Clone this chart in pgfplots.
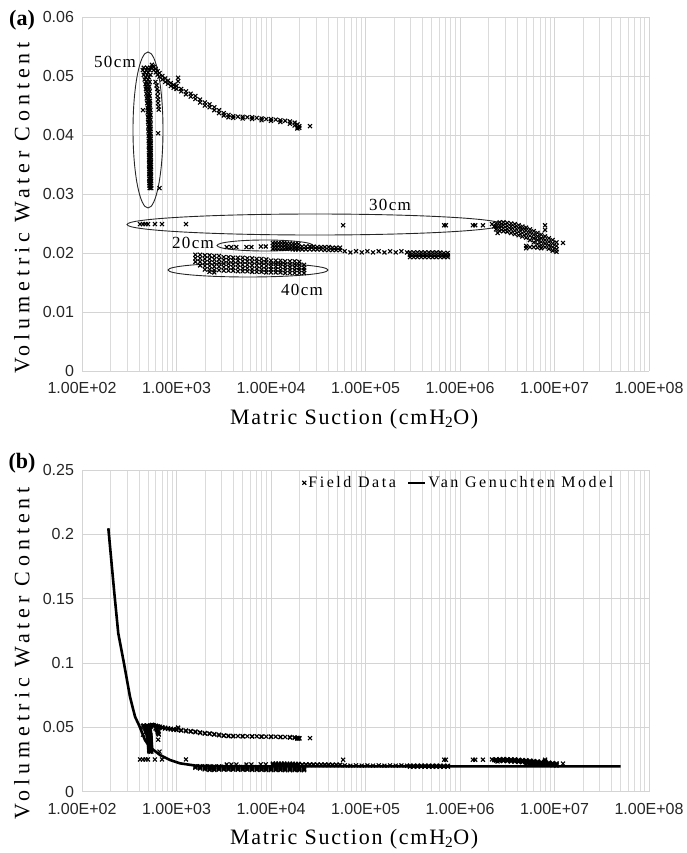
\documentclass[border=0pt]{standalone}
\usepackage{pgfplots}
\pgfplotsset{compat=1.18}
\usepackage{pgfplotstable}
\usepackage{fontspec}
\setmainfont{Liberation Serif}
\newfontfamily\ticksf{Liberation Sans}
\newfontfamily\lsserif[LetterSpace=8]{Liberation Serif}
\newfontfamily\lswide[LetterSpace=22]{Liberation Serif}
\newfontfamily\lsleg[LetterSpace=16]{Liberation Serif}

% 50 cm depth
\pgfplotstableread[row sep=\\]{
x y\\
450 0.0514\\ 490 0.0514\\ 530 0.0514\\
440 0.0510\\ 480 0.0510\\ 520 0.0510\\
460 0.0506\\ 500 0.0506\\
450 0.0502\\ 490 0.0502\\ 530 0.0502\\
470 0.0498\\ 510 0.0498\\
460 0.0494\\ 500 0.0494\\
480 0.0490\\ 520 0.0490\\
470 0.0486\\ 505 0.0486\\
480 0.0482\\ 515 0.0482\\
475 0.0478\\ 510 0.0478\\
485 0.0474\\ 520 0.0474\\
480 0.0470\\ 510 0.0470\\
490 0.0466\\ 520 0.0466\\
485 0.0462\\ 515 0.0462\\
495 0.0458\\ 525 0.0458\\
490 0.0454\\ 520 0.0454\\
500 0.0450\\ 525 0.0450\\
495 0.0446\\ 520 0.0446\\
500 0.0442\\ 530 0.0442\\
495 0.0438\\ 525 0.0438\\
505 0.0434\\ 530 0.0434\\
500 0.0430\\ 525 0.0430\\
505 0.0426\\ 530 0.0426\\
500 0.0422\\ 525 0.0422\\
510 0.0418\\ 530 0.0418\\
505 0.0414\\ 528 0.0414\\
510 0.0410\\ 532 0.0410\\
505 0.0406\\ 528 0.0406\\
512 0.0402\\ 532 0.0402\\
508 0.0398\\ 530 0.0398\\
512 0.0394\\ 534 0.0394\\
508 0.0390\\ 530 0.0390\\
512 0.0386\\ 534 0.0386\\
510 0.0382\\ 530 0.0382\\
514 0.0378\\ 535 0.0378\\
510 0.0374\\ 532 0.0374\\
515 0.0370\\ 535 0.0370\\
512 0.0366\\ 532 0.0366\\
515 0.0362\\ 536 0.0362\\
512 0.0358\\ 533 0.0358\\
516 0.0354\\ 536 0.0354\\
513 0.0350\\ 534 0.0350\\
516 0.0346\\ 537 0.0346\\
514 0.0342\\ 534 0.0342\\
517 0.0338\\ 537 0.0338\\
515 0.0334\\ 535 0.0334\\
518 0.0330\\ 538 0.0330\\
515 0.0326\\ 535 0.0326\\
518 0.0322\\ 538 0.0322\\
516 0.0318\\ 536 0.0318\\
518 0.0314\\ 538 0.0314\\
520 0.0310\\ 540 0.0310\\
600 0.0490\\ 615 0.0484\\ 625 0.0478\\ 636 0.0473\\ 630 0.0466\\ 640 0.0460\\
636 0.0454\\ 645 0.0448\\ 650 0.0443\\ 640 0.0403\\ 660 0.0310\\ 442 0.0442\\
550 0.0519\\ 560 0.0516\\
575 0.0515\\ 575 0.0510\\
603 0.0512\\ 603 0.0506\\
631 0.0508\\ 631 0.0502\\
661 0.0505\\ 661 0.0499\\
708 0.0500\\ 708 0.0494\\
759 0.0496\\ 759 0.0490\\
813 0.0492\\ 813 0.0487\\
871 0.0488\\ 871 0.0483\\
933 0.0485\\ 933 0.0480\\
1000 0.0483\\ 1000 0.0478\\
1040 0.0497\\ 1040 0.0491\\
1122 0.0478\\ 1122 0.0474\\
1259 0.0474\\ 1259 0.0469\\
1413 0.0470\\ 1413 0.0465\\
1585 0.0466\\ 1585 0.0461\\
1778 0.0460\\ 1778 0.0455\\
1995 0.0455\\ 1995 0.0450\\
2239 0.0452\\ 2239 0.0447\\
2512 0.0447\\ 2512 0.0442\\
2818 0.0442\\ 2818 0.0437\\
3162 0.0437\\ 3162 0.0433\\
3548 0.0434\\ 3548 0.0430\\
3981 0.0432\\ 3981 0.0429\\
4467 0.0431\\
5012 0.0431\\ 5012 0.0428\\
5623 0.0430\\
6310 0.0430\\ 6310 0.0427\\
7079 0.0429\\
7943 0.0428\\ 7943 0.0425\\
8913 0.0427\\
10000 0.0427\\ 10000 0.0424\\
11220 0.0426\\
12589 0.0425\\ 12589 0.0422\\
14125 0.0424\\
15849 0.0423\\ 15849 0.0419\\
17783 0.0421\\ 17783 0.0416\\
19055 0.0418\\ 19055 0.0413\\ 19055 0.0411\\
19953 0.0415\\ 19953 0.0412\\
25900 0.0415\\
}\fiftycm

% 30 cm depth
\pgfplotstableread[row sep=\\]{
x y\\
411 0.0249\\ 441 0.0249\\ 470 0.0249\\ 499 0.0249\\ 591 0.0249\\ 703 0.0249\\ 1260 0.0249\\
58000 0.0247\\ 680000 0.0247\\ 710000 0.0247\\ 1370000 0.0247\\ 1450000 0.0247\\
1750000 0.0247\\ 2180000 0.0249\\ 2300000 0.0245\\ 2500000 0.0234\\
2400000 0.0250\\ 2400000 0.0245\\ 2400000 0.0240\\
2630000 0.0252\\ 2630000 0.0247\\ 2630000 0.0242\\ 2630000 0.0237\\
2880000 0.0252\\ 2880000 0.0247\\ 2880000 0.0242\\ 2880000 0.0237\\
3160000 0.0251\\ 3160000 0.0246\\ 3160000 0.0241\\ 3160000 0.0236\\
3470000 0.0250\\ 3470000 0.0245\\ 3470000 0.0240\\ 3470000 0.0234\\
3800000 0.0249\\ 3800000 0.0244\\ 3800000 0.0238\\ 3800000 0.0232\\
4170000 0.0247\\ 4170000 0.0242\\ 4170000 0.0236\\ 4170000 0.0230\\
4570000 0.0245\\ 4570000 0.0240\\ 4570000 0.0234\\ 4570000 0.0228\\
5010000 0.0243\\ 5010000 0.0238\\ 5010000 0.0232\\ 5010000 0.0226\\ 5010000 0.0212\\ 5010000 0.0208\\
5500000 0.0240\\ 5500000 0.0235\\ 5500000 0.0229\\ 5500000 0.0222\\ 5500000 0.0210\\
6030000 0.0237\\ 6030000 0.0231\\ 6030000 0.0225\\ 6030000 0.0218\\ 6030000 0.0210\\
6610000 0.0234\\ 6610000 0.0228\\ 6610000 0.0222\\ 6610000 0.0215\\ 6610000 0.0209\\
7240000 0.0231\\ 7240000 0.0225\\ 7240000 0.0219\\ 7240000 0.0213\\ 7240000 0.0208\\
7940000 0.0228\\ 7940000 0.0222\\ 7940000 0.0216\\ 7940000 0.0210\\ 7940000 0.0247\\ 7940000 0.0239\\
8710000 0.0225\\ 8710000 0.0219\\ 8710000 0.0213\\ 8710000 0.0207\\
9550000 0.0222\\ 9550000 0.0216\\ 9550000 0.0210\\ 9550000 0.0204\\
10500000 0.0218\\ 10500000 0.0212\\ 10500000 0.0206\\ 10500000 0.0202\\
12300000 0.0217\\
}\thirtycm

% 20 cm depth
\pgfplotstableread[row sep=\\]{
x y\\
3400 0.0210\\ 3800 0.0210\\ 4300 0.0210\\ 5500 0.0210\\ 6200 0.0210\\ 7800 0.0211\\ 8800 0.0211\\
10471 0.0217\\ 10471 0.0212\\ 10471 0.0207\\
11220 0.0217\\ 11220 0.0212\\ 11220 0.0207\\
12023 0.0217\\ 12023 0.0212\\ 12023 0.0207\\
12882 0.0217\\ 12882 0.0212\\ 12882 0.0207\\
13804 0.0217\\ 13804 0.0212\\ 13804 0.0207\\
14791 0.0216\\ 14791 0.0211\\ 14791 0.0207\\
15849 0.0216\\ 15849 0.0211\\ 15849 0.0207\\
16982 0.0216\\ 16982 0.0211\\ 16982 0.0206\\
18197 0.0215\\ 18197 0.0210\\ 18197 0.0206\\
19498 0.0215\\ 19498 0.0210\\ 19498 0.0206\\
21380 0.0211\\ 21380 0.0206\\
23442 0.0211\\ 23442 0.0206\\
25704 0.0211\\ 25704 0.0206\\
28184 0.0211\\ 28184 0.0206\\
30903 0.0210\\ 30903 0.0206\\
33884 0.0210\\ 33884 0.0206\\
37154 0.0210\\ 37154 0.0205\\
40738 0.0210\\ 40738 0.0205\\
44668 0.0209\\ 44668 0.0205\\
48978 0.0209\\ 48978 0.0205\\
53703 0.0209\\ 53703 0.0205\\
60256 0.0203\\ 69183 0.0201\\ 79433 0.0203\\ 91201 0.0201\\ 104713 0.0203\\ 120226 0.0201\\
138038 0.0203\\ 158489 0.0201\\ 181970 0.0203\\ 208930 0.0201\\ 239883 0.0203\\ 275423 0.0201\\
295121 0.0201\\ 295121 0.0197\\ 295121 0.0193\\
323594 0.0201\\ 323594 0.0197\\ 323594 0.0193\\
354813 0.0201\\ 354813 0.0197\\ 354813 0.0193\\
389045 0.0201\\ 389045 0.0197\\ 389045 0.0193\\
426580 0.0201\\ 426580 0.0197\\ 426580 0.0193\\
467735 0.0201\\ 467735 0.0197\\ 467735 0.0193\\
512861 0.0201\\ 512861 0.0197\\ 512861 0.0193\\
562341 0.0201\\ 562341 0.0197\\ 562341 0.0193\\
616595 0.0201\\ 616595 0.0197\\ 616595 0.0193\\
676083 0.0200\\ 676083 0.0196\\ 676083 0.0193\\
741310 0.0200\\ 741310 0.0196\\ 741310 0.0193\\
}\twentycm

% 40 cm depth
\pgfplotstableread[row sep=\\]{
x y\\
1585 0.0197\\ 1585 0.0191\\ 1585 0.0185\\
1778 0.0197\\ 1778 0.0191\\ 1778 0.0185\\ 1778 0.0179\\
1995 0.0196\\ 1995 0.0190\\ 1995 0.0184\\ 1995 0.0178\\ 1995 0.0172\\
2239 0.0196\\ 2239 0.0190\\ 2239 0.0184\\ 2239 0.0178\\ 2239 0.0172\\ 2239 0.0168\\
2512 0.0195\\ 2512 0.0189\\ 2512 0.0183\\ 2512 0.0177\\ 2512 0.0171\\ 2512 0.0167\\
2818 0.0195\\ 2818 0.0189\\ 2818 0.0183\\ 2818 0.0177\\ 2818 0.0171\\
3162 0.0193\\ 3162 0.0188\\ 3162 0.0182\\ 3162 0.0176\\ 3162 0.0170\\
3548 0.0193\\ 3548 0.0188\\ 3548 0.0182\\ 3548 0.0176\\ 3548 0.0170\\
3981 0.0192\\ 3981 0.0187\\ 3981 0.0181\\ 3981 0.0175\\ 3981 0.0170\\
4467 0.0192\\ 4467 0.0187\\ 4467 0.0181\\ 4467 0.0175\\ 4467 0.0169\\
5012 0.0192\\ 5012 0.0186\\ 5012 0.0180\\ 5012 0.0174\\ 5012 0.0169\\
5623 0.0191\\ 5623 0.0186\\ 5623 0.0180\\ 5623 0.0174\\ 5623 0.0169\\
6310 0.0191\\ 6310 0.0185\\ 6310 0.0179\\ 6310 0.0173\\ 6310 0.0168\\
7079 0.0190\\ 7079 0.0185\\ 7079 0.0179\\ 7079 0.0173\\ 7079 0.0168\\
7943 0.0190\\ 7943 0.0184\\ 7943 0.0178\\ 7943 0.0172\\ 7943 0.0168\\
8913 0.0189\\ 8913 0.0184\\ 8913 0.0178\\ 8913 0.0172\\ 8913 0.0167\\
10000 0.0187\\ 10000 0.0182\\ 10000 0.0177\\ 10000 0.0172\\ 10000 0.0167\\
11220 0.0187\\ 11220 0.0182\\ 11220 0.0177\\ 11220 0.0172\\ 11220 0.0167\\
12589 0.0187\\ 12589 0.0182\\ 12589 0.0177\\ 12589 0.0171\\ 12589 0.0167\\
14125 0.0186\\ 14125 0.0181\\ 14125 0.0176\\ 14125 0.0171\\ 14125 0.0166\\
15849 0.0186\\ 15849 0.0181\\ 15849 0.0176\\ 15849 0.0171\\ 15849 0.0166\\
17783 0.0186\\ 17783 0.0181\\ 17783 0.0176\\ 17783 0.0171\\ 17783 0.0166\\
19953 0.0185\\ 19953 0.0180\\ 19953 0.0175\\ 19953 0.0171\\ 19953 0.0166\\
22387 0.0180\\ 22387 0.0175\\ 22387 0.0171\\ 22387 0.0166\\
}\fortycm

% Van Genuchten model
\pgfplotstableread[row sep=\\]{
x y\\
190 0.2047\\ 220 0.154\\ 242 0.123\\ 278 0.0997\\ 322 0.0737\\ 364 0.0582\\ 405 0.0509\\
464 0.0400\\ 525 0.0344\\ 668 0.0284\\ 853 0.0245\\ 1089 0.0219\\ 1633 0.0200\\ 3000 0.0196\\
10000 0.0195\\ 100000 0.0195\\ 1000000 0.0195\\ 10000000 0.0195\\ 50000000 0.0195\\
}\vgmodel

\begin{document}
\begin{tikzpicture}
\path[use as bounding box] (0,0) rectangle (687bp,853bp);

\begin{axis}[
    at={(82bp,482bp)}, anchor=south west,
    scale only axis, width=567bp, height=354bp,
    xmode=log, xmin=100, xmax=100000000, ymin=0, ymax=0.06,
    scaled x ticks=false, scaled y ticks=false,
    xtick={100,1000,10000,100000,1000000,10000000,100000000},
    xticklabels={1.00E+02,1.00E+03,1.00E+04,1.00E+05,1.00E+06,1.00E+07,1.00E+08},
    minor xtick={200,300,400,500,600,700,800,900,2000,3000,4000,5000,6000,7000,8000,9000,
      20000,30000,40000,50000,60000,70000,80000,90000,200000,300000,400000,500000,600000,700000,800000,900000,
      2000000,3000000,4000000,5000000,6000000,7000000,8000000,9000000,
      20000000,30000000,40000000,50000000,60000000,70000000,80000000,90000000},
    ytick={0,0.01,0.02,0.03,0.04,0.05,0.06},
    yticklabels={0,0.01,0.02,0.03,0.04,0.05,0.06},
    xmajorgrids=true, xminorgrids=true, ymajorgrids=true,
    major grid style={draw=black!17, line width=0.7bp},
    minor grid style={draw=black!14, line width=0.7bp},
    axis line style={draw=none},
    major tick length=0pt, minor tick length=0pt,
    tick label style={font=\ticksf\fontsize{16bp}{18bp}\selectfont, text=black!85},
    xticklabel style={yshift=-8bp},
    yticklabel style={xshift=-4.5bp},
    xlabel={Matric Suction (cmH\textsubscript{2}O)},
    ylabel={Volumetric Water Content},
    xlabel style={font=\lsserif\fontsize{22bp}{26bp}\selectfont, at={(axis description cs:0.48,-0.135)}, anchor=center},
    ylabel style={font=\lswide\fontsize{22bp}{26bp}\selectfont, at={(axis description cs:-0.106,0.46)}, anchor=center},
  ]
\addplot[only marks, mark=x, mark size=2.8bp, black, mark options={line width=1.1bp}] table[x=x,y=y] {\fiftycm};
\addplot[only marks, mark=x, mark size=2.8bp, black, mark options={line width=1.1bp}] table[x=x,y=y] {\thirtycm};
\addplot[only marks, mark=x, mark size=2.8bp, black, mark options={line width=1.1bp}] table[x=x,y=y] {\twentycm};
\addplot[only marks, mark=x, mark size=2.8bp, black, mark options={line width=1.1bp}] table[x=x,y=y] {\fortycm};
\draw[black!85, line width=0.9bp] (rel axis cs:0.1164,0.6808) ellipse [x radius=15bp, y radius=78bp];
\draw[black!85, line width=0.9bp] (rel axis cs:0.4109,0.4138) ellipse [x radius=188bp, y radius=10.5bp];
\draw[black!85, line width=0.9bp] (rel axis cs:0.3228,0.3545) ellipse [x radius=48bp, y radius=5.5bp];
\draw[black!85, line width=0.9bp] (rel axis cs:0.2928,0.2853) ellipse [x radius=80bp, y radius=7bp];
\node[font=\lsserif\fontsize{17bp}{19bp}\selectfont] at (rel axis cs:0.0582,0.8729) {50cm};
\node[font=\lsserif\fontsize{17bp}{19bp}\selectfont] at (rel axis cs:0.5432,0.4689) {30cm};
\node[font=\lsserif\fontsize{17bp}{19bp}\selectfont] at (rel axis cs:0.1958,0.3616) {20cm};
\node[font=\lsserif\fontsize{17bp}{19bp}\selectfont] at (rel axis cs:0.388,0.2288) {40cm};
\end{axis}

\begin{axis}[
    at={(82bp,61.5bp)}, anchor=south west,
    scale only axis, width=567bp, height=321.5bp,
    xmode=log, xmin=100, xmax=100000000, ymin=0, ymax=0.25,
    scaled x ticks=false, scaled y ticks=false,
    xtick={100,1000,10000,100000,1000000,10000000,100000000},
    xticklabels={1.00E+02,1.00E+03,1.00E+04,1.00E+05,1.00E+06,1.00E+07,1.00E+08},
    minor xtick={200,300,400,500,600,700,800,900,2000,3000,4000,5000,6000,7000,8000,9000,
      20000,30000,40000,50000,60000,70000,80000,90000,200000,300000,400000,500000,600000,700000,800000,900000,
      2000000,3000000,4000000,5000000,6000000,7000000,8000000,9000000,
      20000000,30000000,40000000,50000000,60000000,70000000,80000000,90000000},
    ytick={0,0.05,0.1,0.15,0.2,0.25},
    yticklabels={0,0.05,0.1,0.15,0.2,0.25},
    xmajorgrids=true, xminorgrids=true, ymajorgrids=true,
    major grid style={draw=black!17, line width=0.7bp},
    minor grid style={draw=black!14, line width=0.7bp},
    axis line style={draw=none},
    major tick length=0pt, minor tick length=0pt,
    tick label style={font=\ticksf\fontsize{16bp}{18bp}\selectfont, text=black!85},
    xticklabel style={yshift=-8bp},
    yticklabel style={xshift=-4.5bp},
    xlabel={Matric Suction (cmH\textsubscript{2}O)},
    ylabel={Volumetric Water Content},
    xlabel style={font=\lsserif\fontsize{22bp}{26bp}\selectfont, at={(axis description cs:0.48,-0.147)}, anchor=center},
    ylabel style={font=\lswide\fontsize{22bp}{26bp}\selectfont, at={(axis description cs:-0.106,0.43)}, anchor=center},
    legend columns=2,
    legend style={at={(axis description cs:0.383,0.96)}, anchor=west, draw=none, fill=none,
      font=\lsleg\fontsize{16bp}{18bp}\selectfont,
      /tikz/every even column/.append style={column sep=9bp}},
  ]
\addplot[only marks, mark=x, mark size=2.8bp, black, mark options={line width=1.1bp}] table[x=x,y=y] {\fiftycm};
\addlegendentry{Field Data}
\addplot[only marks, mark=x, mark size=2.8bp, black, mark options={line width=1.1bp}, forget plot] table[x=x,y=y] {\thirtycm};
\addplot[only marks, mark=x, mark size=2.8bp, black, mark options={line width=1.1bp}, forget plot] table[x=x,y=y] {\twentycm};
\addplot[only marks, mark=x, mark size=2.8bp, black, mark options={line width=1.1bp}, forget plot] table[x=x,y=y] {\fortycm};
\addplot[black, line width=2.6bp, no marks] table[x=x,y=y] {\vgmodel};
\addlegendentry{Van Genuchten Model}
\end{axis}

\node[font=\bfseries\fontsize{22bp}{24bp}\selectfont] at (22bp,833bp) {(a)};
\node[font=\bfseries\fontsize{22bp}{24bp}\selectfont] at (22bp,390bp) {(b)};
\end{tikzpicture}
\end{document}
